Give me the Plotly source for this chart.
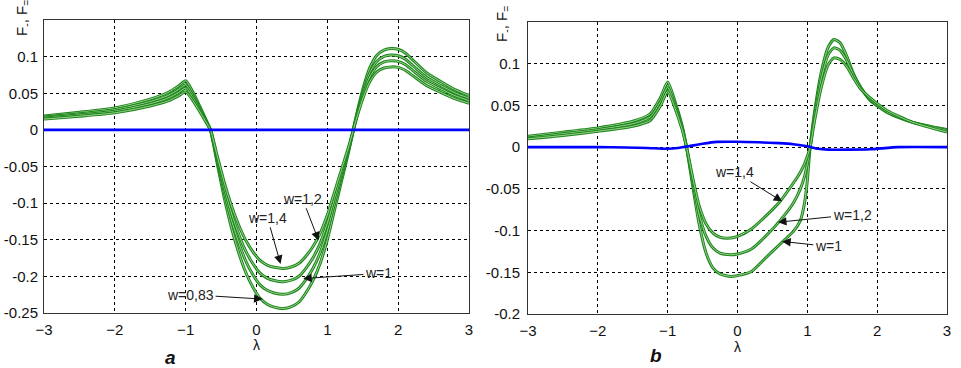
import plotly.graph_objects as go

# ---------------- data: panel a ----------------
LAM_A = [-3, -2.5, -2, -1.5, -1.25, -1.1, -1, -0.9, -0.8, -0.7, -0.65, -0.55, -0.45, -0.35,
         -0.25, -0.15, -0.05, 0.05, 0.15, 0.25, 0.38, 0.5, 0.6, 0.7, 0.8, 0.9, 1.0, 1.1, 1.2,
         1.3, 1.35, 1.4, 1.5, 1.6, 1.7, 1.8, 1.9, 2.0, 2.1, 2.2, 2.4, 2.6, 2.8, 3.0]
A_W083 = [0.019, 0.024, 0.030, 0.042, 0.051, 0.060, 0.067, 0.052, 0.032, 0.011, 0.0, -0.048,
          -0.095, -0.135, -0.168, -0.195, -0.215, -0.230, -0.238, -0.242, -0.244, -0.241,
          -0.235, -0.222, -0.205, -0.182, -0.150, -0.110, -0.070, -0.030, -0.008, 0.015,
          0.055, 0.085, 0.102, 0.109, 0.111, 0.110, 0.105, 0.096, 0.078, 0.066, 0.055, 0.047]
A_W1 = [0.0175, 0.022, 0.0276, 0.0386, 0.0469, 0.0552, 0.0616, 0.0478, 0.0294, 0.0101, 0.0,
        -0.0442, -0.0874, -0.1242, -0.1546, -0.1794, -0.1978, -0.2116, -0.219, -0.2226,
        -0.2245, -0.2217, -0.2162, -0.2042, -0.1886, -0.1674, -0.138, -0.1012, -0.0644,
        -0.0276, -0.0074, 0.0138, 0.0506, 0.0782, 0.0938, 0.1003, 0.1021, 0.1012, 0.0966,
        0.0883, 0.0718, 0.0607, 0.0506, 0.0432]
A_W12 = [0.0162, 0.0204, 0.0255, 0.0357, 0.0434, 0.051, 0.057, 0.0442, 0.0272, 0.0094, 0.0,
         -0.0408, -0.0808, -0.1148, -0.1428, -0.1658, -0.1828, -0.1955, -0.2023, -0.2057,
         -0.2074, -0.2049, -0.1998, -0.1887, -0.1743, -0.1547, -0.1275, -0.0935, -0.0595,
         -0.0255, -0.0068, 0.0128, 0.0468, 0.0723, 0.0867, 0.0927, 0.0944, 0.0935, 0.0893,
         0.0816, 0.0663, 0.0561, 0.0468, 0.040]
A_W14 = [0.0147, 0.0186, 0.0233, 0.0326, 0.0395, 0.0465, 0.0519, 0.0403, 0.0248, 0.0085, 0.0,
         -0.0372, -0.0736, -0.1046, -0.1302, -0.1511, -0.1666, -0.1783, -0.1845, -0.1876,
         -0.1891, -0.1868, -0.1821, -0.1721, -0.1589, -0.1411, -0.1163, -0.0853, -0.0543,
         -0.0233, -0.0062, 0.0116, 0.0426, 0.0659, 0.0791, 0.0845, 0.086, 0.0853, 0.0814,
         0.0744, 0.0605, 0.0512, 0.0426, 0.0364]
A_BLUE_X = [-3, 3]
A_BLUE_Y = [0.0, 0.0]

# ---------------- data: panel b ----------------
LAM_B = [-3, -2.5, -2, -1.5, -1.25, -1.1, -1, -0.9, -0.8, -0.73, -0.65, -0.55, -0.45, -0.35,
         -0.25, -0.1, 0.0, 0.2, 0.4, 0.6, 0.8, 0.9, 0.96, 1.0, 1.04, 1.1, 1.2, 1.3, 1.38,
         1.47, 1.57, 1.66, 1.76, 1.9, 2.14, 2.5, 3.0]
B_W1 = [0.013, 0.018, 0.023, 0.031, 0.040, 0.060, 0.078, 0.056, 0.028, 0.0, -0.042, -0.092,
        -0.127, -0.145, -0.152, -0.155, -0.154, -0.149, -0.133, -0.117, -0.101, -0.088,
        -0.067, -0.040, 0.0, 0.040, 0.090, 0.120, 0.129, 0.125, 0.108, 0.088, 0.072, 0.056,
        0.042, 0.030, 0.021]
B_W12 = [0.011, 0.016, 0.021, 0.028, 0.036, 0.055, 0.072, 0.052, 0.026, 0.0, -0.037, -0.080,
         -0.107, -0.121, -0.127, -0.129, -0.128, -0.122, -0.107, -0.089, -0.067, -0.050,
         -0.035, -0.020, 0.0, 0.036, 0.082, 0.111, 0.119, 0.116, 0.103, 0.087, 0.072, 0.057,
         0.042, 0.030, 0.020]
B_W14 = [0.010, 0.014, 0.019, 0.025, 0.032, 0.050, 0.067, 0.048, 0.023, 0.0, -0.033, -0.070,
         -0.092, -0.103, -0.108, -0.109, -0.107, -0.098, -0.083, -0.066, -0.043, -0.030,
         -0.020, -0.011, 0.0, 0.030, 0.072, 0.099, 0.107, 0.105, 0.096, 0.083, 0.070, 0.059,
         0.044, 0.030, 0.018]
B_BLUE_X = [-3, -2, -1.6, -1.3, -1.0, -0.85, -0.7, -0.5, -0.3, 0.0, 0.3, 0.6, 0.8, 1.0,
            1.15, 1.3, 1.6, 1.9, 2.3, 3.0]
B_BLUE_Y = [0.0, 0.0, -0.0005, -0.001, -0.002, -0.001, 0.001, 0.004, 0.0063, 0.0065, 0.0058,
            0.0048, 0.0035, 0.001, -0.002, -0.003, -0.003, -0.0025, 0.0, 0.0]

X_TICKS = [-3, -2, -1, 0, 1, 2, 3]
A_YTICKS = [-0.25, -0.2, -0.15, -0.1, -0.05, 0, 0.05, 0.1]
A_YLABELS = ["-0.25", "-0.2", "-0.15", "-0.1", "-0.05", "0", "0.05", "0.1"]
B_YTICKS = [-0.2, -0.15, -0.1, -0.05, 0, 0.05, 0.1]
B_YLABELS = ["-0.2", "-0.15", "-0.1", "-0.05", "0", "0.05", "0.1"]

W, H = 961, 368


def px_x(px):
    return px / W


def px_y(py):
    return 1 - py / H


GREEN_DARK = "#1e861e"
GREEN_LIGHT = "#a8dc98"
FONT = "Liberation Sans, Arial, sans-serif"

fig = go.Figure()


def add_green(x, y, xa, ya):
    fig.add_trace(go.Scatter(x=x, y=y, xaxis=xa, yaxis=ya, mode="lines",
                             line=dict(color=GREEN_DARK, width=3.0, shape="spline", smoothing=0.6),
                             showlegend=False, hoverinfo="skip"))
    fig.add_trace(go.Scatter(x=x, y=y, xaxis=xa, yaxis=ya, mode="lines",
                             line=dict(color=GREEN_LIGHT, width=0.9, shape="spline", smoothing=0.6),
                             showlegend=False, hoverinfo="skip"))


for ys in (A_W083, A_W1, A_W12, A_W14):
    add_green(LAM_A, ys, "x", "y")
fig.add_trace(go.Scatter(x=A_BLUE_X, y=A_BLUE_Y, xaxis="x", yaxis="y", mode="lines",
                         line=dict(color="#0000ff", width=2.6), showlegend=False))

for ys in (B_W1, B_W12, B_W14):
    add_green(LAM_B, ys, "x2", "y2")
fig.add_trace(go.Scatter(x=B_BLUE_X, y=B_BLUE_Y, xaxis="x2", yaxis="y2", mode="lines",
                         line=dict(color="#0000ff", width=2.6, shape="spline", smoothing=0.5),
                         showlegend=False))

axis_common = dict(showgrid=True, gridcolor="#000000", griddash="dot", gridwidth=1,
                   zeroline=False, showline=True, linecolor="#333333", linewidth=1,
                   mirror=True, ticks="", automargin=False,
                   tickfont=dict(family=FONT, size=15, color="#111111"))

fig.update_layout(
    width=W, height=H,
    margin=dict(l=0, r=0, t=0, b=0),
    paper_bgcolor="white", plot_bgcolor="white",
    showlegend=False,
    xaxis=dict(domain=[px_x(44), px_x(469)], range=[-3, 3], tickvals=X_TICKS,
               ticklabelstandoff=3, anchor="y", **axis_common),
    yaxis=dict(domain=[px_y(313), px_y(20)], range=[-0.25, 0.15], tickvals=A_YTICKS,
               ticktext=A_YLABELS, ticklabelstandoff=2, anchor="x", **axis_common),
    xaxis2=dict(domain=[px_x(528), px_x(947)], range=[-3, 3], tickvals=X_TICKS,
                ticklabelstandoff=3, anchor="y2", **axis_common),
    yaxis2=dict(domain=[px_y(314), px_y(22)], range=[-0.2, 0.15], tickvals=B_YTICKS,
                ticktext=B_YLABELS, ticklabelstandoff=4, anchor="x2", **axis_common),
)

lab_font = dict(family=FONT, size=14, color="#222222")


def arrow(text, tx, ty, hx, hy, xr, yr):
    fig.add_annotation(text=text, x=hx, y=hy, ax=tx, ay=ty, xref=xr, yref=yr,
                       axref=xr, ayref=yr, showarrow=True, arrowhead=2, arrowsize=1.7,
                       arrowwidth=1, arrowcolor="#111111", font=lab_font)


arrow("w=1,2", 0.65, -0.094, 0.876, -0.151, "x", "y")
arrow("w=1,4", 0.155, -0.120, 0.34, -0.183, "x", "y")
arrow("w=1", 1.72, -0.196, 0.66, -0.203, "x", "y")
arrow("w=0,83", -0.93, -0.225, 0.085, -0.231, "x", "y")

arrow("w=1,4", -0.036, -0.030, 0.64, -0.065, "x2", "y2")
arrow("w=1,2", 1.64, -0.081, 0.58, -0.090, "x2", "y2")
arrow("w=1", 1.30, -0.119, 0.64, -0.113, "x2", "y2")


def paper_text(text, px, py, size, angle=0, bold=False, italic=False):
    t = text
    if bold:
        t = "<b>" + t + "</b>"
    if italic:
        t = "<i>" + t + "</i>"
    fig.add_annotation(text=t, x=px_x(px), y=px_y(py), xref="paper", yref="paper",
                       showarrow=False, textangle=angle, xanchor="center", yanchor="middle",
                       font=dict(family=FONT, size=size, color="#111111"))


paper_text("λ", 256, 345, 14)
paper_text("λ", 737, 347, 14)
paper_text("a", 170, 357, 19, bold=True, italic=True)
paper_text("b", 656, 355, 19, bold=True, italic=True)
paper_text("F<sub>-</sub>, F<sub>=</sub>", 22, 18, 15, angle=-90)
paper_text("F<sub>-</sub>, F<sub>=</sub>", 503, 24, 15, angle=-90)

# remove the default page margin so the figure sits at the window's top-left corner
fig.write_html("out.html",
               config={"displayModeBar": False},
               post_script="document.body.style.margin='0';document.body.style.overflow='hidden';")
